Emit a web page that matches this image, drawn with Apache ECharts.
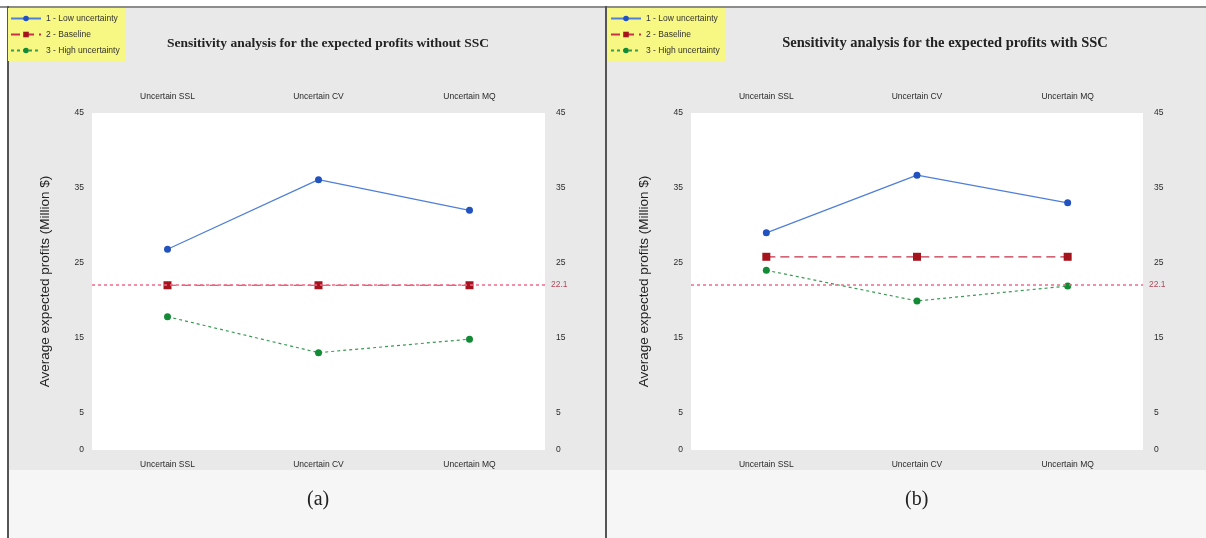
<!DOCTYPE html>
<html>
<head>
<meta charset="utf-8">
<script src="https://cdn.jsdelivr.net/npm/echarts@6/dist/echarts.min.js"></script>
<style>
html,body{margin:0;padding:0;background:#fff;}
#c{width:1206px;height:538px;}
</style>
</head>
<body>
<div id="c"></div>
<script>
const categories = ['Uncertain SSL', 'Uncertain CV', 'Uncertain MQ'];
const seriesNames = ['1 - Low uncertainty', '2 - Baseline', '3 - High uncertainty'];
const lowA = [26.8, 36.1, 32.0];
const baseA = [22.0, 22.0, 22.0];
const highA = [17.8, 13.0, 14.8];
const lowB = [29.0, 36.7, 33.0];
const baseB = [25.8, 25.8, 25.8];
const highB = [24.0, 19.9, 21.9];
const refValue = 22.1;
const yTickLabels = [0, 5, 15, 25, 35, 45];
const titles = ['Sensitivity analysis for the expected profits without SSC', 'Sensitivity analysis for the expected profits with SSC'];
const panelLabels = ['(a)', '(b)'];
const yName = 'Average expected profits (Million $)';

const chart = echarts.init(document.getElementById('c'), null, {renderer: 'canvas'});

const tickFont = {fontFamily: 'Liberation Sans', fontSize: 8.5, color: '#2a2a2a'};
const grids = [
  {left: 92, top: 113, width: 453, height: 337},
  {left: 691, top: 113, width: 452, height: 337}
];

function xAx(gi, pos) {
  return {type: 'category', gridIndex: gi, position: pos, data: categories, boundaryGap: true,
    axisLine: {show: false}, axisTick: {show: false}, splitLine: {show: false},
    axisLabel: Object.assign({margin: pos === 'top' ? 12 : 10}, tickFont)};
}
function yAx(gi, pos) {
  const o = {type: 'value', gridIndex: gi, position: pos, min: 0, max: 45, interval: 5,
    axisLine: {show: false}, axisTick: {show: false}, splitLine: {show: false},
    axisLabel: Object.assign({margin: pos === 'left' ? 8 : 11,
      formatter: v => yTickLabels.indexOf(v) >= 0 ? String(v) : ''}, tickFont)};
  if (pos === 'left') {
    o.name = yName; o.nameLocation = 'middle'; o.nameGap = 40; o.nameRotate = 90;
    o.nameTextStyle = {fontFamily: 'Liberation Sans', fontSize: 13.5, color: '#222'};
  }
  return o;
}

function panelSeries(p, low, base, high) {
  const xi = p * 2, yi = p * 2;
  return [
    {name: seriesNames[0], type: 'line', xAxisIndex: xi, yAxisIndex: yi, data: low,
      symbol: 'circle', symbolSize: 7, itemStyle: {color: '#2152c0'},
      lineStyle: {color: '#4f7fd8', width: 1.2}},
    {name: seriesNames[1], type: 'line', xAxisIndex: xi, yAxisIndex: yi, data: base,
      symbol: 'rect', symbolSize: 8, itemStyle: {color: '#a5141c'},
      lineStyle: {color: '#c8304a', width: 1.2, type: [9, 5]},
      markLine: {silent: true, symbol: 'none', animation: false,
        lineStyle: {color: '#f06a86', width: 1.5, type: [3, 3]},
        label: {show: true, position: 'end', distance: 6, formatter: String(refValue),
          fontFamily: 'Liberation Sans', fontSize: 8.5, color: '#b04a5a'},
        data: [{yAxis: refValue}]}},
    {name: seriesNames[2], type: 'line', xAxisIndex: xi, yAxisIndex: yi, data: high,
      symbol: 'circle', symbolSize: 7, itemStyle: {color: '#138a35'},
      lineStyle: {color: '#3a9a55', width: 1.2, type: [3, 3]}}
  ];
}

function legendAt(left) {
  return {left: left, top: 8, orient: 'vertical', data: seriesNames,
    backgroundColor: '#f7f784', padding: [6, 6, 6, 2], itemGap: 7,
    itemWidth: 30, itemHeight: 7, selectedMode: false,
    textStyle: {fontFamily: 'Liberation Sans', fontSize: 8.5, color: '#333'}};
}

const option = {
  animation: false,
  backgroundColor: '#ffffff',
  graphic: [
    {type: 'rect', z: -10, shape: {x: 8, y: 7, width: 598, height: 463}, style: {fill: '#e9e9e9'}},
    {type: 'rect', z: -10, shape: {x: 607, y: 7, width: 599, height: 463}, style: {fill: '#e9e9e9'}},
    {type: 'rect', z: -10, shape: {x: 8, y: 470, width: 1198, height: 68}, style: {fill: '#f6f6f6'}},
    {type: 'rect', z: -9, shape: {x: 0, y: 6, width: 1206, height: 2}, style: {fill: '#8c8c8c'}},
    {type: 'rect', z: -9, shape: {x: 7, y: 6, width: 2, height: 532}, style: {fill: '#555'}},
    {type: 'rect', z: -9, shape: {x: 605, y: 6, width: 2, height: 532}, style: {fill: '#555'}},
    {type: 'text', left: 307, top: 490, style: {text: panelLabels[0], font: '20px "Liberation Serif"', fill: '#222'}},
    {type: 'text', left: 905, top: 490, style: {text: panelLabels[1], font: '20px "Liberation Serif"', fill: '#222'}}
  ],
  title: [
    {text: titles[0], left: 323, top: 32, textAlign: 'center',
      textStyle: {fontFamily: 'Liberation Serif', fontWeight: 'bold', fontSize: 13.5, color: '#222'}},
    {text: titles[1], left: 940, top: 31, textAlign: 'center',
      textStyle: {fontFamily: 'Liberation Serif', fontWeight: 'bold', fontSize: 14.5, color: '#222'}}
  ],
  legend: [legendAt(8), legendAt(608)],
  grid: grids.map(g => Object.assign({show: true, backgroundColor: '#ffffff', borderWidth: 0, containLabel: false}, g)),
  xAxis: [xAx(0, 'bottom'), xAx(0, 'top'), xAx(1, 'bottom'), xAx(1, 'top')],
  yAxis: [yAx(0, 'left'), yAx(0, 'right'), yAx(1, 'left'), yAx(1, 'right')],
  series: [].concat(panelSeries(0, lowA, baseA, highA), panelSeries(1, lowB, baseB, highB))
};
chart.setOption(option);
</script>
</body>
</html>
